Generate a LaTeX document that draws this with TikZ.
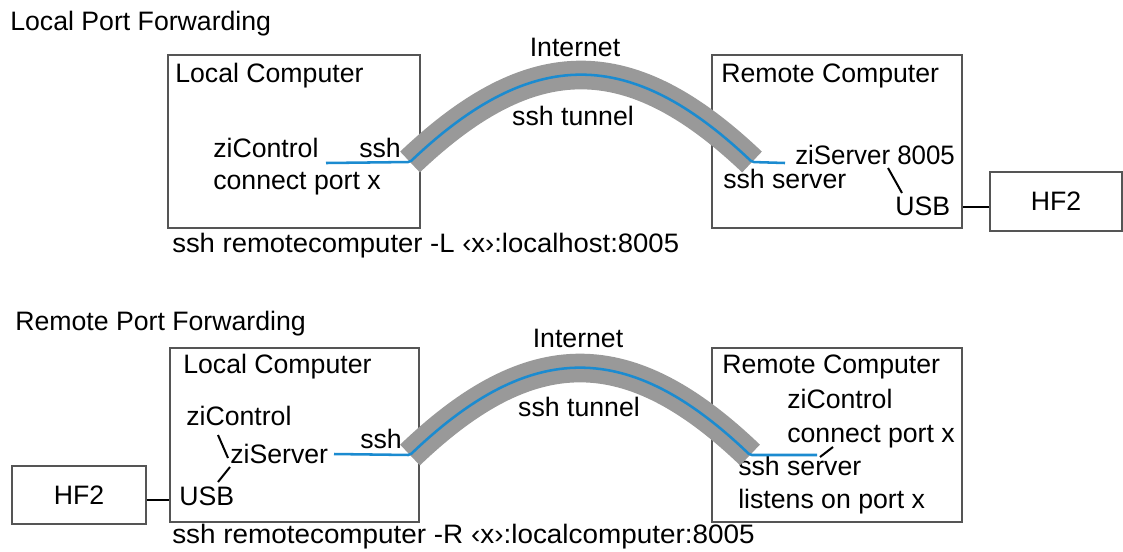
\documentclass[tikz,border=0pt]{standalone}
\usepackage{fontspec}
\setmainfont{Liberation Sans}
\definecolor{sshblue}{HTML}{1B8BD0}
\definecolor{tunnelgray}{HTML}{999999}
\definecolor{boxc}{HTML}{555555}
\begin{document}
\begin{tikzpicture}[x=0.75pt,y=-0.75pt,
  box/.style={draw=boxc, line width=1.1pt, inner sep=0pt, font=\fontsize{20}{24}\selectfont},
  lbl/.style={anchor=base west, inner sep=0pt, font=\fontsize{20}{24}\selectfont},
  clbl/.style={anchor=base, inner sep=0pt, font=\fontsize{20}{24}\selectfont},
  tunnel/.style={draw=tunnelgray, line width=21.5pt},
  bluewire/.style={draw=sshblue, line width=1.9pt, rounded corners=1.5pt},
  tick/.style={draw=black, line width=1.5pt},
  link/.style={draw=black, line width=1.5pt}]
\useasboundingbox (0,0) rectangle (1123,551);

% ===== Local Port Forwarding =====
\node[lbl] (t1) at (10,30) {Local Port Forwarding};
\node[box, minimum width=189pt, minimum height=129.75pt] (lc1) at (294,141.5) {};
\node[box, minimum width=187.5pt, minimum height=129.75pt] (rc1) at (837,141.5) {};
\node[box, minimum width=99pt, minimum height=44.25pt] (hf1) at (1056,201.5) {HF2};

\node[lbl] (lcl1) at (175,82) {Local Computer};
\node[lbl] (rcl1) at (721,82) {Remote Computer};
\node[lbl] (zc1) at (213,157) {ziControl};
\node[lbl] (ssh1) at (359,157) {ssh};
\node[lbl] (cp1) at (213,189) {connect port x};
\node[lbl] (zs1) at (795,164) {\scalebox{0.97}[1]{ziServer 8005}};
\node[lbl] (ss1) at (723,188) {ssh server};
\node[lbl] (usb1) at (895,215) {USB};
\node[clbl] (in1) at (575,56) {Internet};
\node[clbl] (tn1) at (573,125) {ssh tunnel};
\node[lbl] (cmd1) at (172,252) {\scalebox{1.03}[1]{ssh remotecomputer -L ‹x›:localhost:8005}};

\coordinate (tl1) at (410,162);
\coordinate (tr1) at (752,162);
\coordinate (bs1) at (326,163);
\coordinate (be1) at (785,163);
\path[tunnel] (tl1) .. controls (532,46) and (630,46) .. (tr1);
\path[bluewire] (bs1) -- (tl1) .. controls (532,46) and (630,46) .. (tr1) -- (be1);
\coordinate (k1a) at (888,168);
\coordinate (k1b) at (902,193);
\draw[tick] (k1a) -- (k1b);
\draw[link] ([yshift=-4pt]hf1.west) -- ([yshift=-4pt]hf1.west -| rc1.east);

% ===== Remote Port Forwarding =====
\node[lbl] (t2) at (15,330) {Remote Port Forwarding};
\node[box, minimum width=186.75pt, minimum height=130.5pt] (lc2) at (294.5,435) {};
\node[box, minimum width=187.5pt, minimum height=130.5pt] (rc2) at (837,435) {};
\node[box, minimum width=100.5pt, minimum height=43.5pt] (hf2) at (79,495) {HF2};

\node[lbl] (lcl2) at (183,373) {Local Computer};
\node[lbl] (rcl2) at (722,373) {Remote Computer};
\node[lbl] (zc2) at (186,425) {ziControl};
\node[lbl] (zs2) at (230,463) {ziServer};
\node[lbl] (ssh2) at (360,448) {ssh};
\node[lbl] (usb2) at (179,505) {USB};
\node[lbl] (zc3) at (787,408) {ziControl};
\node[lbl] (cp2) at (787,442) {connect port x};
\node[lbl] (ss2) at (738,475) {ssh server};
\node[lbl] (lp2) at (738,508) {listens on port x};
\node[clbl] (in2) at (578,347) {Internet};
\node[clbl] (tn2) at (579,416) {ssh tunnel};
\node[lbl] (cmd2) at (172,543) {\scalebox{1.045}[1]{ssh remotecomputer -R ‹x›:localcomputer:8005}};

\coordinate (tl2) at (410,455);
\coordinate (tr2) at (750,455);
\coordinate (bs2) at (334,454);
\coordinate (be2) at (817,455);
\path[tunnel] (tl2) .. controls (531,339) and (629,339) .. (tr2);
\path[bluewire] (bs2) -- (tl2) .. controls (531,339) and (629,339) .. (tr2) -- (be2);
\coordinate (k2a) at (218,435);
\coordinate (k2b) at (228,458);
\coordinate (k3a) at (230,467);
\coordinate (k3b) at (218,482);
\coordinate (k4a) at (820,457);
\coordinate (k4b) at (833,447);
\draw[tick] (k2a) -- (k2b);
\draw[tick] (k3a) -- (k3b);
\draw[tick] (k4a) -- (k4b);
\draw[link] ([yshift=-4pt]hf2.east) -- ([yshift=-4pt]hf2.east -| lc2.west);
\end{tikzpicture}
\end{document}
